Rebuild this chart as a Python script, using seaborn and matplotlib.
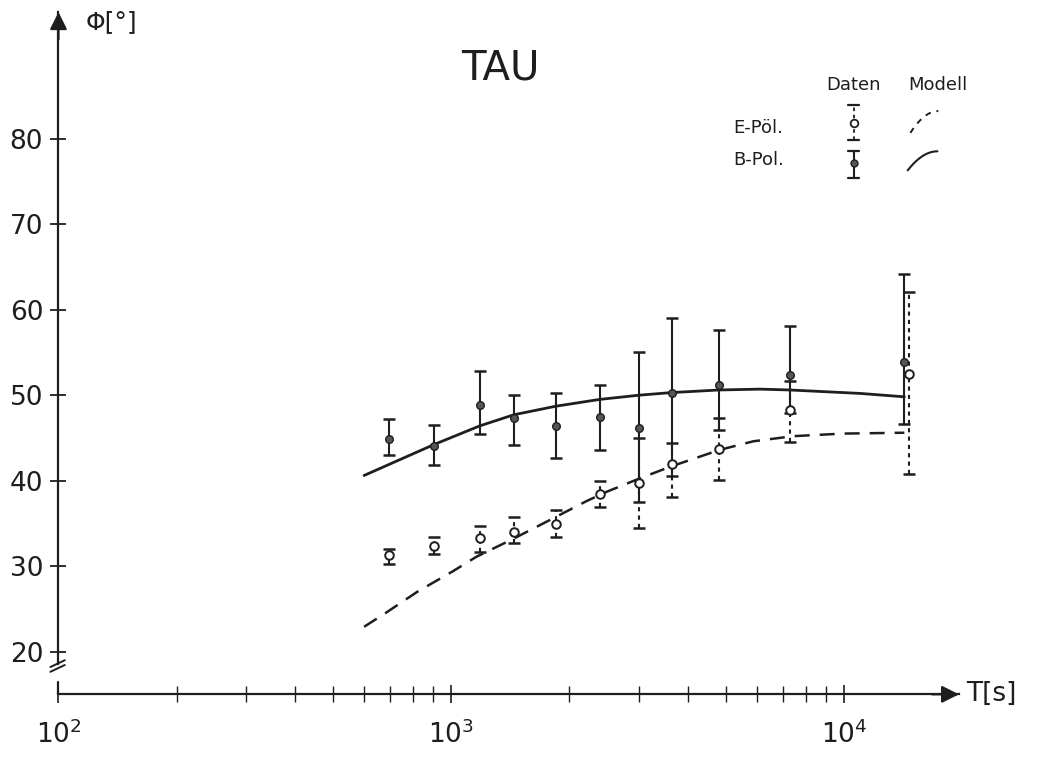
import numpy as np
import pandas as pd
import seaborn as sns
import matplotlib.pyplot as plt
from matplotlib.ticker import FixedLocator, NullFormatter

# measured periods T [s]
period_b = [693, 902, 1182, 1443, 1846, 2390, 3004, 3646, 4803, 7286, 14250]
period_e = [693, 902, 1182, 1443, 1846, 2390, 3004, 3646, 4803, 7286, 14670]

# B-Pol. phase [deg] with lower / upper error limits
phi_b = [44.9, 44.0, 48.9, 47.3, 46.4, 47.4, 46.1, 50.3, 51.2, 52.3, 53.9]
phi_b_lo = [43.0, 41.8, 45.5, 44.2, 42.7, 43.6, 37.5, 40.5, 45.9, 47.9, 46.6]
phi_b_hi = [47.2, 46.5, 52.8, 50.0, 50.3, 51.2, 55.1, 59.0, 57.6, 58.1, 64.2]

# E-Pol. phase [deg] with lower / upper error limits
phi_e = [31.3, 32.4, 33.3, 34.0, 34.9, 38.4, 39.7, 41.9, 43.7, 48.3, 52.5]
phi_e_lo = [30.2, 31.4, 31.7, 32.7, 33.4, 36.9, 34.5, 38.1, 40.1, 44.5, 40.8]
phi_e_hi = [32.0, 33.4, 34.7, 35.7, 36.6, 40.0, 45.0, 44.4, 47.3, 51.6, 62.1]

# model curves
model_t_b = [600, 902, 1182, 1443, 1846, 2390, 3022, 3646, 4803, 6109, 7286, 10985, 14250]
model_phi_b = [40.6, 44.2, 46.4, 47.7, 48.7, 49.5, 50.0, 50.3, 50.6, 50.7, 50.6, 50.2, 49.8]
model_t_e = [600, 680, 820, 1010, 1160, 1440, 1820, 2210, 2490, 2960, 3600, 4830, 5880, 7430, 9950, 14250]
model_phi_e = [22.9, 24.5, 27.0, 29.4, 31.1, 33.2, 35.6, 37.6, 38.7, 40.1, 41.6, 43.6, 44.6, 45.2, 45.5, 45.6]

y_ticks = [20, 30, 40, 50, 60, 70, 80]
x_major = [1e2, 1e3, 1e4]
x_labels = [r'$10^2$', r'$10^3$', r'$10^4$']

INK = '#1e1e1e'

sns.set_style('ticks')
plt.rcParams['font.family'] = ['DejaVu Sans']
plt.rcParams['mathtext.fontset'] = 'dejavusans'

fig = plt.figure(figsize=(10.37, 7.58), dpi=100)
ax = fig.add_axes([0.0564, 0.084, 0.8684, 0.900])

df_b = pd.DataFrame({'T': model_t_b, 'phi': model_phi_b})
df_e = pd.DataFrame({'T': model_t_e, 'phi': model_phi_e})
sns.lineplot(data=df_b, x='T', y='phi', ax=ax, color=INK, lw=2.0, sort=False, estimator=None)
sns.lineplot(data=df_e, x='T', y='phi', ax=ax, color=INK, lw=1.8, sort=False, estimator=None,
             linestyle=(0, (6, 4)))

# error bars
pb = np.array(phi_b)
pe = np.array(phi_e)
eb = ax.errorbar(period_b, pb, yerr=[pb - np.array(phi_b_lo), np.array(phi_b_hi) - pb],
                 fmt='none', ecolor=INK, elinewidth=1.5, capsize=4.5, capthick=1.8)
ee = ax.errorbar(period_e, pe, yerr=[pe - np.array(phi_e_lo), np.array(phi_e_hi) - pe],
                 fmt='none', ecolor=INK, elinewidth=1.5, capsize=4.5, capthick=1.8)
ee[2][0].set_linestyle((0, (2, 2)))

pts_b = pd.DataFrame({'T': period_b, 'phi': phi_b})
pts_e = pd.DataFrame({'T': period_e, 'phi': phi_e})
sns.scatterplot(data=pts_b, x='T', y='phi', ax=ax, color='#555555', edgecolor=INK,
                s=30, linewidth=1.0, zorder=5)
sns.scatterplot(data=pts_e, x='T', y='phi', ax=ax, color='white', edgecolor=INK,
                s=38, linewidth=1.4, zorder=5)

# axes
ax.set_xscale('log')
ax.set_xlim(100, 19634)
ax.set_ylim(15.0, 94.8)
ax.xaxis.set_major_locator(FixedLocator(x_major))
ax.set_xticklabels(x_labels)
minors = [m * d for d in (100, 1000) for m in range(2, 10)]
ax.xaxis.set_minor_locator(FixedLocator(minors))
ax.xaxis.set_minor_formatter(NullFormatter())
ax.set_yticks(y_ticks)
ax.set_xlabel('')
ax.set_ylabel('')

sns.despine(ax=ax)
for s in ('left', 'bottom'):
    ax.spines[s].set_linewidth(1.6)
    ax.spines[s].set_color(INK)
ax.spines['left'].set_bounds(18.6, 94.8)

ax.tick_params(axis='y', direction='inout', length=12, width=1.3, pad=5,
               labelsize=19, colors=INK)
ax.tick_params(axis='x', which='major', direction='inout', length=13, width=1.2, pad=12,
               labelsize=19, colors=INK)
ax.tick_params(axis='x', which='minor', direction='inout', length=11, width=1.0, colors=INK)

# axis break and stub
ax.plot([0, 0], [0, 0.0185], transform=ax.transAxes, color=INK, lw=1.6, clip_on=False)
for dy in (0.0, 0.007):
    ax.plot([-0.009, 0.007], [0.033 + dy, 0.043 + dy], transform=ax.transAxes,
            color=INK, lw=1.4, clip_on=False)

# arrows
arrow = dict(arrowstyle='-|>', color=INK, lw=1.6, mutation_scale=26, shrinkA=0, shrinkB=0)
ax.annotate('', xy=(1.0, 0), xytext=(0.97, 0), xycoords='axes fraction', arrowprops=arrow)
ax.annotate('', xy=(0, 1.0), xytext=(0, 0.96), xycoords='axes fraction', arrowprops=arrow)

ax.text(1.008, 0.0, 'T[s]', transform=ax.transAxes, fontsize=19, color=INK,
        ha='left', va='center')
ax.text(0.03, 0.985, 'Φ[°]', transform=ax.transAxes, fontsize=18, color=INK,
        ha='left', va='center')
ax.text(0.491, 0.918, 'TAU', transform=ax.transAxes, fontsize=29, color=INK,
        ha='center', va='center')

# hand-made legend
ax.text(0.883, 0.893, 'Daten', transform=ax.transAxes, fontsize=13, color=INK,
        ha='center', va='center')
ax.text(0.976, 0.893, 'Modell', transform=ax.transAxes, fontsize=13, color=INK,
        ha='center', va='center')
ax.text(0.749, 0.830, 'E-Pöl.', transform=ax.transAxes, fontsize=13, color=INK,
        ha='left', va='center')
ax.text(0.749, 0.783, 'B-Pol.', transform=ax.transAxes, fontsize=13, color=INK,
        ha='left', va='center')

lx = 0.883
ax.plot([lx, lx], [0.812, 0.864], transform=ax.transAxes, color=INK, lw=1.3,
        ls=(0, (2, 2)), clip_on=False)
for yc in (0.812, 0.864):
    ax.plot([lx - 0.006, lx + 0.006], [yc, yc], transform=ax.transAxes, color=INK,
            lw=1.6, clip_on=False)
ax.plot([lx], [0.837], transform=ax.transAxes, marker='o', ms=5.5, mfc='white',
        mec=INK, mew=1.3, clip_on=False)

ax.plot([lx, lx], [0.757, 0.797], transform=ax.transAxes, color=INK, lw=1.5, clip_on=False)
for yc in (0.757, 0.797):
    ax.plot([lx - 0.006, lx + 0.006], [yc, yc], transform=ax.transAxes, color=INK,
            lw=1.6, clip_on=False)
ax.plot([lx], [0.779], transform=ax.transAxes, marker='o', ms=5, mfc='#555555',
        mec=INK, mew=1.0, clip_on=False)

arc_t = np.linspace(0, 1, 12)
ax.plot(0.946 + 0.031 * arc_t, 0.823 + 0.032 * (1 - (1 - arc_t) ** 2), transform=ax.transAxes,
        color=INK, lw=1.4, ls=(0, (3, 3)), clip_on=False)
ax.plot(0.943 + 0.033 * arc_t, 0.768 + 0.028 * (1 - (1 - arc_t) ** 2), transform=ax.transAxes,
        color=INK, lw=1.5, clip_on=False)

fig.savefig('out.png', dpi=100, facecolor='white')
